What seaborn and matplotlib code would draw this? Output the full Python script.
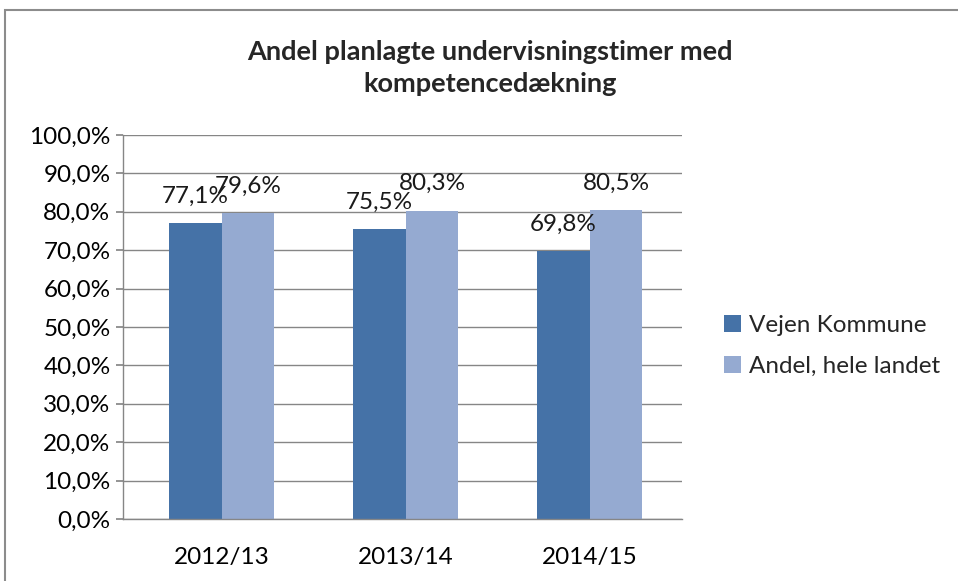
import matplotlib
matplotlib.use("Agg")
import matplotlib.pyplot as plt
import seaborn as sns
import pandas as pd
from matplotlib.patches import Rectangle
from matplotlib.ticker import FuncFormatter

# ---- data ----
years = ["2012/13", "2013/14", "2014/15"]
series_names = ["Vejen Kommune", "Andel, hele landet"]
vejen = [77.1, 75.5, 69.8]
landet = [79.6, 80.3, 80.5]

df = pd.DataFrame({
    "year": years * 2,
    "series": [series_names[0]] * 3 + [series_names[1]] * 3,
    "value": vejen + landet,
})

sns.set_theme(style="white")
plt.rcParams["font.family"] = ["Lato", "DejaVu Sans"]

colors = ["#4572A7", "#95AAD1"]
fig = plt.figure(figsize=(9.58, 5.81), dpi=100)
ax = fig.add_axes([123 / 958, 1 - 519 / 581, 559 / 958, 384 / 581])

sns.barplot(data=df, x="year", y="value", hue="series", order=years,
            hue_order=series_names, palette=colors, width=0.57, gap=0,
            saturation=1, ax=ax, legend=False, edgecolor="none", linewidth=0)

ax.set_ylim(0, 100)
ax.set_xlim(-0.535, 2.5)
ax.set_yticks(range(0, 101, 10))
ax.yaxis.set_major_formatter(FuncFormatter(lambda v, p: f"{v:.1f}".replace(".", ",") + "%"))
ax.grid(axis="y", color="#868686", linewidth=1)
ax.set_axisbelow(True)
ax.set_xlabel("")
ax.set_ylabel("")
for s in ["top", "right"]:
    ax.spines[s].set_visible(False)
for s in ["left", "bottom"]:
    ax.spines[s].set_color("#868686")
    ax.spines[s].set_linewidth(1)
ax.tick_params(axis="y", which="major", left=True, length=5, color="#868686",
               labelsize=17.5, labelcolor="black", pad=4)
ax.tick_params(axis="x", bottom=False, labelsize=17.5, labelcolor="black", pad=14)

# data labels (placed a fixed distance above each bar)
for ci, cont in enumerate(ax.containers):
    vals = [vejen, landet][ci]
    for bi, bar in enumerate(cont):
        x = bar.get_x() + bar.get_width() / 2
        ax.text(x, vals[bi] + 7.0,
                f"{vals[bi]:.1f}".replace(".", ",") + "%",
                ha="center", va="center", fontsize=17.5, color="#1a1a1a")

# legend
handles = [Rectangle((0, 0), 1, 1, facecolor=c, edgecolor="none") for c in colors]
fig.legend(handles, series_names, loc="center left",
           bbox_to_anchor=(702 / 958, 1 - 346 / 581), frameon=False,
           fontsize=17.5, handlelength=0.7, handleheight=0.7,
           handletextpad=0.35, labelspacing=0.85)

# title
fig.text(490 / 958, 1 - 68 / 581,
         "Andel planlagte undervisningstimer med\nkompetencedækning",
         ha="center", va="center", fontsize=19.5, fontweight="bold",
         linespacing=1.45)

# chart border (cut off at right and bottom)
fig.patches.append(Rectangle((5 / 958, -0.1), 1.2, 1 - 10 / 581 + 0.1,
                             transform=fig.transFigure, fill=False,
                             edgecolor="#8C8C8C", linewidth=1.5))

fig.savefig("out.png", dpi=100)
